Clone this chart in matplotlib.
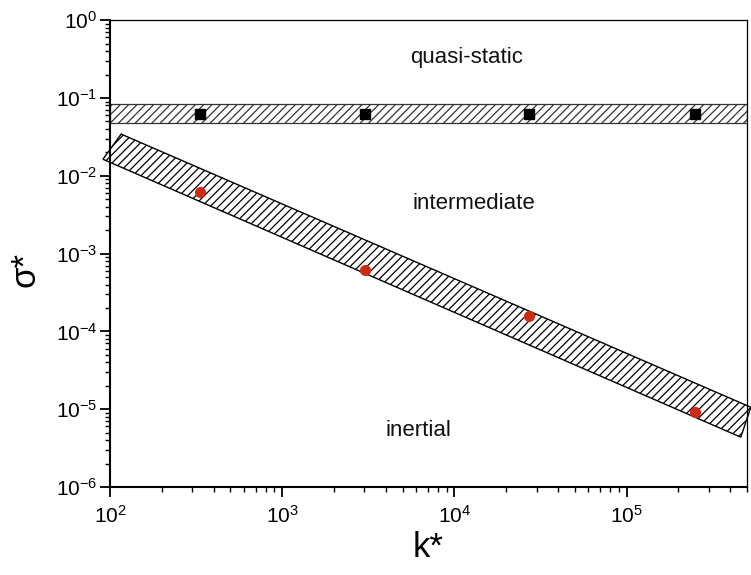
import matplotlib
matplotlib.use('Agg')
import matplotlib.pyplot as plt
import numpy as np
from matplotlib.patches import Polygon
from matplotlib.ticker import LogLocator, NullFormatter

plt.rcParams['font.family'] = ['Liberation Sans', 'DejaVu Sans']
plt.rcParams['mathtext.fontset'] = 'custom'
plt.rcParams['mathtext.rm'] = 'Liberation Sans'
plt.rcParams['mathtext.it'] = 'Liberation Sans:italic'
plt.rcParams['axes.unicode_minus'] = False
plt.rcParams['hatch.linewidth'] = 0.9

# data
k_points = [333, 3040, 27000, 248000]
sigma_quasi = [0.062, 0.062, 0.062, 0.062]
sigma_inertial = [0.0062, 6.1e-4, 1.58e-4, 9.1e-6]

# horizontal band (quasi-static boundary)
band_h_sigma = [0.048, 0.083]
band_h_k = [100, 5e5]

# tilted band corners (k, sigma): TL, TR, BR, BL
band_d_k = [116, 526000, 460000, 91]
band_d_sigma = [0.0343, 1.06e-5, 4.37e-6, 0.0163]

regions = ['quasi-static', 'intermediate', 'inertial']
region_k = [11700, 13000, 6200]
region_sigma = [0.334, 0.00445, 5.4e-6]

fig = plt.figure(figsize=(7.51, 5.75), dpi=100)
ax = fig.add_axes([0.1465, 0.153, 0.8482, 0.812])
ax.set_xscale('log')
ax.set_yscale('log')
ax.set_xlim(100, 5e5)
ax.set_ylim(1e-6, 1)

ax.fill_between(band_h_k, band_h_sigma[0], band_h_sigma[1], facecolor='white',
                edgecolor='#333333', hatch='////', linewidth=0.9, zorder=2)

poly = Polygon(np.column_stack([band_d_k, band_d_sigma]), closed=True,
               facecolor='white', edgecolor='black', hatch='////',
               linewidth=1.0, clip_on=False, zorder=2)
ax.add_patch(poly)

ax.plot(k_points, sigma_quasi, 's', color='black', markersize=7, zorder=4)
ax.plot(k_points, sigma_inertial, 'o', color='#cc2a12', markersize=8,
        markeredgewidth=0, zorder=4)

for name, kx, sy in zip(regions, region_k, region_sigma):
    ax.text(kx, sy, name, fontsize=16, ha='center', va='center', color='#111111')

ax.set_xlabel('k*', fontsize=25, labelpad=3)
ax.set_ylabel('σ*', fontsize=25)
ax.yaxis.set_label_coords(-0.108, 0.465)

ax.xaxis.set_major_locator(LogLocator(base=10, numticks=10))
ax.yaxis.set_major_locator(LogLocator(base=10, numticks=10))
ax.xaxis.set_minor_locator(LogLocator(base=10, subs=np.arange(2, 10), numticks=20))
ax.yaxis.set_minor_locator(LogLocator(base=10, subs=np.arange(2, 10), numticks=20))
ax.xaxis.set_minor_formatter(NullFormatter())
ax.yaxis.set_minor_formatter(NullFormatter())

ax.tick_params(which='major', direction='out', length=7, width=1.3, labelsize=15,
               top=False, right=False)
ax.tick_params(which='minor', direction='out', length=3.5, width=1.0,
               top=False, right=False)
ax.tick_params(axis='y', which='major', pad=2)
ax.tick_params(axis='x', which='major', pad=6)

ax.spines['left'].set_linewidth(1.5)
ax.spines['bottom'].set_linewidth(1.5)
ax.spines['top'].set_linewidth(0.9)
ax.spines['right'].set_linewidth(0.9)

fig.savefig('out.png', dpi=100)
